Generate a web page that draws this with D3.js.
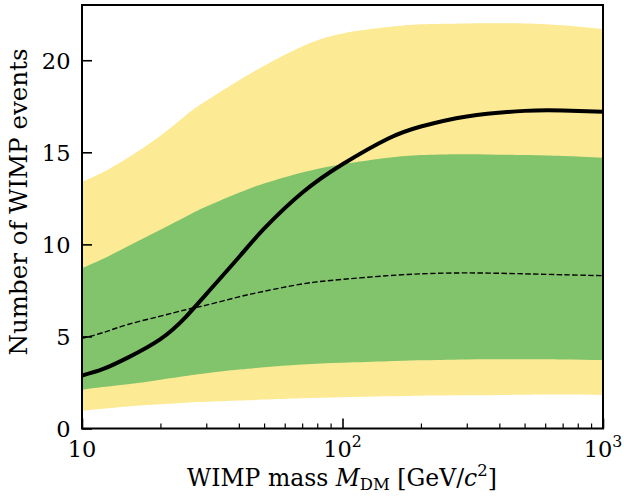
<!DOCTYPE html>
<html>
<head>
<meta charset="utf-8">
<script src="https://cdn.jsdelivr.net/npm/d3@7"></script>
<style>
  html, body { margin: 0; padding: 0; background: #fff; }
  text { font-family: "DejaVu Serif", serif; fill: #000; }
</style>
</head>
<body>
<svg id="chart" width="624" height="502"></svg>
<script>
// ---- data ----
const masses     = [10, 12, 15, 20, 25, 30, 40, 50, 70, 100, 150, 200, 300, 500, 700, 1000];
const expected   = [2.88, 3.22, 3.85, 4.85, 6.05, 7.3, 9.3, 10.85, 12.8, 14.35, 15.75, 16.4, 16.95, 17.25, 17.27, 17.2];
const median     = [4.9, 5.2, 5.65, 6.1, 6.45, 6.7, 7.15, 7.45, 7.85, 8.1, 8.3, 8.4, 8.45, 8.4, 8.35, 8.3];
const sigma1Up   = [8.7, 9.2, 9.9, 10.8, 11.5, 12.05, 12.8, 13.3, 13.9, 14.35, 14.7, 14.85, 14.9, 14.85, 14.8, 14.7];
const sigma1Down = [2.1, 2.25, 2.4, 2.65, 2.85, 3.0, 3.2, 3.33, 3.48, 3.57, 3.65, 3.7, 3.75, 3.76, 3.75, 3.72];
const sigma2Up   = [13.4, 13.9, 14.7, 15.9, 17.0, 17.8, 18.9, 19.7, 20.75, 21.45, 21.8, 21.95, 22.0, 22.0, 21.9, 21.7];
const sigma2Down = [0.97, 1.07, 1.2, 1.32, 1.4, 1.45, 1.52, 1.57, 1.64, 1.7, 1.75, 1.78, 1.8, 1.83, 1.84, 1.82];
const yTicks = [0, 5, 10, 15, 20];
const xTicks = [10, 100, 1000];
const xMinorTicks = [20, 30, 40, 50, 60, 70, 80, 90, 200, 300, 400, 500, 600, 700, 800, 900];
const yDomain = [0, 23];
const xDomain = [10, 1000];

// ---- layout ----
const W = 624, H = 502;
const margin = { left: 82, right: 21, top: 5, bottom: 73.5 };
const pw = W - margin.left - margin.right;
const ph = H - margin.top - margin.bottom;

const svg = d3.select("#chart");
const g = svg.append("g").attr("transform", `translate(${margin.left},${margin.top})`);

const x = d3.scaleLog().domain(xDomain).range([0, pw]);
const y = d3.scaleLinear().domain(yDomain).range([ph, 0]);

const rows = masses.map((m, i) => ({
  m, e: expected[i], med: median[i],
  u1: sigma1Up[i], d1: sigma1Down[i], u2: sigma2Up[i], d2: sigma2Down[i]
}));

g.append("clipPath").attr("id", "clip")
  .append("rect").attr("width", pw).attr("height", ph);
const plot = g.append("g").attr("clip-path", "url(#clip)");

const curve = d3.curveNatural;
const band = (lo, hi) => d3.area().curve(curve)
  .x(d => x(d.m)).y0(d => y(d[lo])).y1(d => y(d[hi]));

plot.append("path").datum(rows).attr("d", band("d2", "u2")).attr("fill", "#fcea94");
plot.append("path").datum(rows).attr("d", band("d1", "u1")).attr("fill", "#82c46c");

const line = key => d3.line().curve(curve).x(d => x(d.m)).y(d => y(d[key]));
plot.append("path").datum(rows).attr("d", line("med"))
  .attr("fill", "none").attr("stroke", "#000").attr("stroke-width", 1.4)
  .attr("stroke-dasharray", "5.5,2.4");
plot.append("path").datum(rows).attr("d", line("e"))
  .attr("fill", "none").attr("stroke", "#000").attr("stroke-width", 4)
  .attr("stroke-linejoin", "round");

// ---- axes ----
const fs = 22.5;
const yfs = 24.5;
const xfs = 23.5;
const xAxis = d3.axisBottom(x).tickValues(xTicks).tickSizeInner(-10).tickSizeOuter(0)
  .tickFormat(() => "");
const xa = g.append("g").attr("transform", `translate(0,${ph})`).call(xAxis);
xa.select(".domain").remove();
xa.selectAll(".tick line").attr("stroke", "#000").attr("stroke-width", 1.6);

const xm = g.append("g").attr("transform", `translate(0,${ph})`)
  .call(d3.axisBottom(x).tickValues(xMinorTicks).tickSizeInner(-5).tickSizeOuter(0).tickFormat(() => ""));
xm.select(".domain").remove();
xm.selectAll(".tick line").attr("stroke", "#000").attr("stroke-width", 1.2);

// x tick labels with superscripts
const xl = g.append("g").attr("transform", `translate(0,${ph})`);
xTicks.forEach(v => {
  const p = Math.round(Math.log10(v));
  const t = xl.append("text").attr("x", x(v)).attr("y", 28.3)
    .attr("text-anchor", "middle").attr("font-size", fs);
  if (p === 1) {
    t.text("10");
  } else {
    t.append("tspan").text("10");
    t.append("tspan").attr("dy", -9.5).attr("font-size", fs * 0.7).text(String(p));
  }
});

const yAxis = d3.axisLeft(y).tickValues(yTicks).tickSizeInner(-10).tickSizeOuter(0);
const ya = g.append("g").call(yAxis);
ya.select(".domain").remove();
ya.selectAll(".tick line").attr("stroke", "#000").attr("stroke-width", 1.6);
ya.selectAll(".tick text").attr("x", -11.5).attr("dy", "0.36em")
  .attr("font-size", fs).attr("font-family", "DejaVu Serif").attr("fill", "#000");

// frame
g.append("rect").attr("width", pw).attr("height", ph)
  .attr("fill", "none").attr("stroke", "#000").attr("stroke-width", 2);

// axis labels
svg.append("text")
  .attr("transform", `translate(27,${202}) rotate(-90)`)
  .attr("text-anchor", "middle").attr("font-size", yfs)
  .text("Number of WIMP events");

const xt = svg.append("text").attr("x", 342).attr("y", 486)
  .attr("text-anchor", "middle").attr("font-size", xfs);
xt.append("tspan").text("WIMP mass ");
xt.append("tspan").attr("font-style", "italic").text("M");
xt.append("tspan").attr("font-size", xfs * 0.7).attr("dy", 4).text("DM");
xt.append("tspan").attr("dy", -4).text(" [GeV/");
xt.append("tspan").attr("font-style", "italic").text("c");
xt.append("tspan").attr("font-size", xfs * 0.7).attr("dy", -10).text("2");
xt.append("tspan").attr("dy", 10).text("]");
</script>
</body>
</html>
